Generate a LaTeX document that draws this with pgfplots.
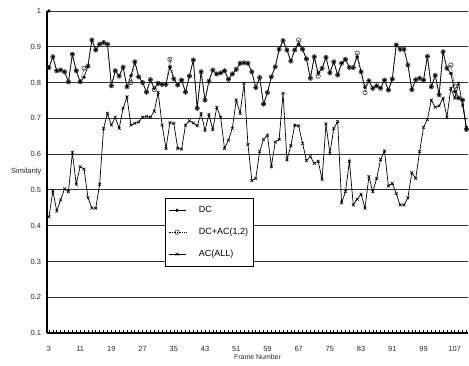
\documentclass[border=0pt]{standalone}
\usepackage{fontspec}
\setmainfont{Liberation Sans}
\usepackage{pgfplots}
\pgfplotsset{compat=1.18}
\usepackage{pgfplotstable}

\pgfplotstableread{
f dc dcac ac
3 0.842 0.842 0.425
4 0.872 0.872 0.497
5 0.833 0.833 0.441
6 0.835 0.835 0.472
7 0.830 0.830 0.503
8 0.802 0.802 0.495
9 0.879 0.879 0.604
10 0.833 0.833 0.516
11 0.802 0.802 0.565
12 0.815 0.840 0.558
13 0.846 0.846 0.478
14 0.919 0.919 0.449
15 0.891 0.891 0.449
16 0.907 0.907 0.516
17 0.912 0.912 0.672
18 0.907 0.907 0.714
19 0.791 0.791 0.681
20 0.833 0.833 0.703
21 0.818 0.818 0.672
22 0.843 0.843 0.728
23 0.788 0.788 0.760
24 0.819 0.800 0.681
25 0.858 0.858 0.686
26 0.816 0.816 0.690
27 0.800 0.800 0.703
28 0.773 0.773 0.705
29 0.808 0.808 0.703
30 0.784 0.780 0.720
31 0.798 0.798 0.772
32 0.795 0.795 0.681
33 0.795 0.795 0.616
34 0.844 0.865 0.688
35 0.810 0.810 0.686
36 0.793 0.793 0.616
37 0.807 0.807 0.614
38 0.773 0.773 0.681
39 0.818 0.818 0.693
40 0.863 0.863 0.687
41 0.728 0.728 0.679
42 0.830 0.830 0.714
43 0.751 0.751 0.666
44 0.804 0.804 0.711
45 0.835 0.835 0.668
46 0.824 0.824 0.731
47 0.827 0.827 0.703
48 0.833 0.833 0.616
49 0.809 0.809 0.639
50 0.824 0.824 0.672
51 0.837 0.837 0.751
52 0.854 0.854 0.714
53 0.855 0.855 0.798
54 0.854 0.854 0.627
55 0.830 0.830 0.526
56 0.786 0.786 0.532
57 0.814 0.814 0.607
58 0.740 0.740 0.641
59 0.772 0.772 0.653
60 0.816 0.816 0.565
61 0.844 0.844 0.634
62 0.893 0.893 0.641
63 0.917 0.917 0.770
64 0.891 0.891 0.584
65 0.860 0.860 0.624
66 0.891 0.891 0.681
67 0.908 0.919 0.679
68 0.893 0.893 0.630
69 0.866 0.866 0.582
70 0.812 0.812 0.593
71 0.872 0.872 0.574
72 0.827 0.818 0.580
73 0.840 0.840 0.530
74 0.870 0.870 0.684
75 0.827 0.827 0.602
76 0.858 0.858 0.672
77 0.821 0.821 0.691
78 0.854 0.854 0.464
79 0.865 0.865 0.495
80 0.842 0.842 0.580
81 0.842 0.842 0.458
82 0.872 0.882 0.474
83 0.830 0.830 0.488
84 0.787 0.772 0.449
85 0.805 0.805 0.537
86 0.784 0.784 0.495
87 0.791 0.791 0.532
88 0.784 0.784 0.585
89 0.807 0.807 0.609
90 0.779 0.779 0.511
91 0.810 0.810 0.518
92 0.905 0.905 0.490
93 0.893 0.893 0.458
94 0.893 0.893 0.458
95 0.849 0.849 0.478
96 0.780 0.780 0.548
97 0.808 0.808 0.532
98 0.812 0.812 0.607
99 0.807 0.807 0.675
100 0.873 0.873 0.697
101 0.788 0.788 0.751
102 0.820 0.820 0.731
103 0.766 0.766 0.735
104 0.886 0.886 0.756
105 0.840 0.840 0.703
106 0.825 0.849 0.784
107 0.775 0.790 0.756
108 0.757 0.757 0.798
109 0.751 0.751 0.737
110 0.669 0.669 0.675
}\data

\begin{document}
\begin{tikzpicture}
\begin{axis}[
  scale only axis, width=421bp, height=322bp,
  xmin=2.5, xmax=110.4, ymin=0.1, ymax=1,
  axis x line*=bottom, axis y line*=left,
  axis line style={line width=1.2bp, black},
  xtick={3,11,...,107}, minor xtick={3,...,110},
  ytick={0.1,0.2,0.3,0.4,0.5,0.6,0.7,0.8,0.9,1},
  tick align=inside,
  major tick length=2.5bp, minor tick length=2.5bp,
  x tick style={black, line width=0.6bp},
  y tick style={draw=none},
  ymajorgrids, grid style={line width=0.8bp, black!80},
  yticklabel style={/pgf/number format/fixed, /pgf/number format/precision=1, xshift=-2.5bp},
  xticklabel style={yshift=-10bp},
  tick label style={font=\fontsize{7.5}{8}\selectfont, black!85},
  /pgf/number format/assume math mode=true,
  xlabel={Frame Number}, ylabel={Similarity},
  every axis x label/.style={at={(axis description cs:0.5,0)}, anchor=center, yshift=-24bp, font=\fontsize{7}{8}\selectfont, black!85},
  every axis y label/.style={at={(axis description cs:0,0.5)}, anchor=east, xshift=-2bp, font=\fontsize{7.5}{8}\selectfont, black!85},
  legend style={at={(0.28,0.419)}, anchor=north west, draw=black, line width=0.7bp, fill=white,
    font=\fontsize{9}{10}\selectfont, row sep=10bp, inner ysep=6bp, inner xsep=3bp,
    /tikz/every odd column/.append style={column sep=11bp}},
  legend cell align=left,
]
\coordinate (ll) at (rel axis cs:0,0);
\coordinate (ur) at (rel axis cs:1,1);
\addplot[black, line width=0.7bp, mark=*, mark size=1.3bp] table[x=f, y=dc] {\data};
\addlegendentry{DC}
\addplot[black, line width=0.7bp, densely dotted, mark=o, mark size=2.2bp, mark options={solid, line width=0.6bp, black!80}] table[x=f, y=dcac] {\data};
\addlegendentry{DC+AC(1,2)}
\addplot[black, line width=0.7bp, mark=x, mark size=2bp, mark options={line width=0.6bp}] table[x=f, y=ac] {\data};
\addlegendentry{AC(ALL)}
\addplot[only marks, mark=*, mark size=1.5bp, black, forget plot] coordinates {(3,1)};
\end{axis}
\path ([shift={(-47bp,-33bp)}]ll) rectangle ([shift={(1bp,11bp)}]ur);
\end{tikzpicture}
\end{document}
